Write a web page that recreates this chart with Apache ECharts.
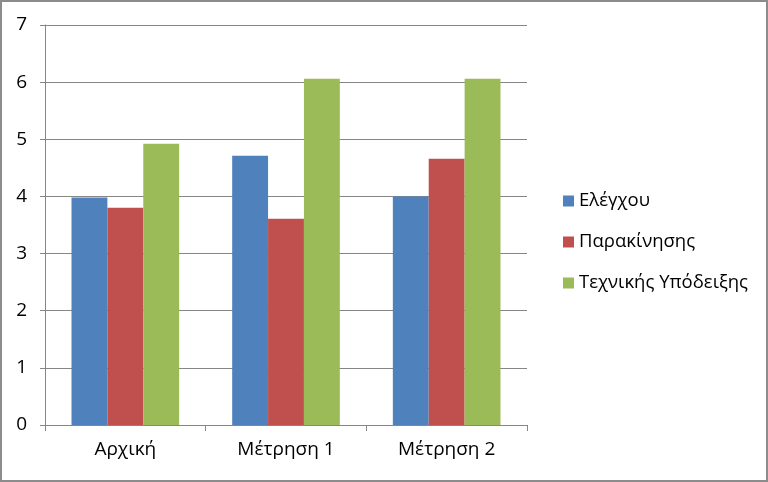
<!DOCTYPE html>
<html>
<head>
<meta charset="utf-8">
<script src="https://cdn.jsdelivr.net/npm/echarts@6/dist/echarts.min.js"></script>
<style>
  html, body { margin: 0; padding: 0; background: #fff; }
  #main { width: 764px; height: 478px; border: 2px solid #8c8c8c; }
</style>
</head>
<body>
<div id="main"></div>
<script type="text/javascript">
// data
var categories = ['Αρχική', 'Μέτρηση 1', 'Μέτρηση 2'];
var seriesNames = ['Ελέγχου', 'Παρακίνησης', 'Τεχνικής Υπόδειξης'];
var elegxou = [3.98, 4.71, 4.0];
var parakinisis = [3.8, 3.61, 4.66];
var texnikis = [4.92, 6.06, 6.06];
var yTicks = [0, 1, 2, 3, 4, 5, 6, 7];

var colors = ['#4f81bd', '#c0504d', '#9bbb59'];
var font = 'Open Sans, DejaVu Sans, sans-serif';

var myChart = echarts.init(document.getElementById('main'));

var option = {
    animation: false,
    color: colors,
    textStyle: { fontFamily: font },
    grid: { left: 43, top: 23, right: 239, bottom: 55 },
    legend: {
        orient: 'vertical',
        left: 556,
        top: 183,
        icon: 'rect',
        itemWidth: 11,
        itemHeight: 11,
        itemGap: 19,
        textStyle: { fontSize: 18.5, color: '#000', fontFamily: font, lineHeight: 22 },
        data: seriesNames
    },
    xAxis: {
        type: 'category',
        data: categories,
        axisLine: { lineStyle: { color: '#868686' } },
        axisTick: { show: true, length: 6, lineStyle: { color: '#868686' } },
        axisLabel: { fontSize: 19, color: '#000', margin: 15, fontFamily: font }
    },
    yAxis: {
        type: 'value',
        min: yTicks[0],
        max: yTicks[yTicks.length - 1],
        interval: 1,
        axisLine: { show: true, lineStyle: { color: '#868686' } },
        axisTick: { show: true, length: 5, lineStyle: { color: '#868686' } },
        axisLabel: { fontSize: 19, color: '#000', margin: 18, fontFamily: font },
        splitLine: { lineStyle: { color: '#868686', width: 1 } }
    },
    series: [
        { name: seriesNames[0], type: 'bar', data: elegxou, barGap: '0%', barCategoryGap: '33%' },
        { name: seriesNames[1], type: 'bar', data: parakinisis, barGap: '0%', barCategoryGap: '33%' },
        { name: seriesNames[2], type: 'bar', data: texnikis, barGap: '0%', barCategoryGap: '33%' }
    ]
};

myChart.setOption(option);
</script>
</body>
</html>
